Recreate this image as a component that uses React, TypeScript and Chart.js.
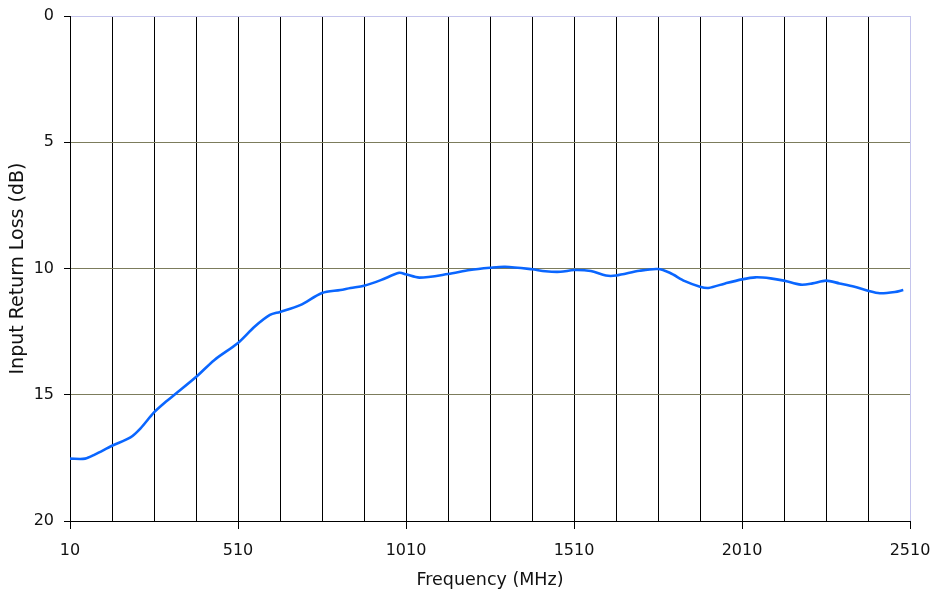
import React, { useEffect, useRef } from "react";
import { Chart, registerables } from "chart.js";

Chart.register(...registerables);

const FREQ_MHZ = [10, 55, 85, 135, 190, 220, 260, 295, 320, 385, 440, 510, 560, 605, 635, 695, 760, 815, 845, 885, 935, 990, 1010, 1050, 1135, 1200, 1260, 1305, 1385, 1425, 1470, 1510, 1560, 1605, 1635, 1705, 1760, 1795, 1840, 1885, 1910, 1960, 2010, 2050, 2095, 2135, 2185, 2220, 2260, 2300, 2345, 2385, 2420, 2465, 2490];
const RETURN_LOSS_DB = [17.53, 17.53, 17.36, 17.02, 16.69, 16.33, 15.7, 15.28, 15.01, 14.3, 13.62, 12.95, 12.3, 11.84, 11.72, 11.45, 10.97, 10.85, 10.77, 10.68, 10.46, 10.17, 10.23, 10.36, 10.22, 10.06, 9.97, 9.93, 10.03, 10.11, 10.13, 10.06, 10.1, 10.28, 10.28, 10.09, 10.02, 10.17, 10.5, 10.72, 10.77, 10.59, 10.43, 10.35, 10.39, 10.48, 10.64, 10.59, 10.48, 10.59, 10.72, 10.88, 10.98, 10.93, 10.85];
const X_MIN = 10;
const X_MAX = 2510;
const X_GRID_STEP = 125;
const X_LABEL_STEP = 500;
const Y_MIN = 0;
const Y_MAX = 20;
const Y_STEP = 5;
const X_TITLE = "Frequency (MHz)";
const Y_TITLE = "Input Return Loss (dB)";

const FONT = "'DejaVu Sans', Verdana, sans-serif";
const LAVENDER = "#c4c4ec";
const OLIVE = "#7c7c5c";

export default function App() {
  const ref = useRef<HTMLCanvasElement | null>(null);

  useEffect(() => {
    if (!ref.current) return;
    const chart = new Chart(ref.current, {
      type: "line",
      data: {
        datasets: [
          {
            data: FREQ_MHZ.map((f, i) => ({ x: f, y: RETURN_LOSS_DB[i] })),
            borderColor: "#0a66ff",
            borderWidth: 2.6,
            pointRadius: 0,
            tension: 0.3,
            fill: false,
          },
        ],
      },
      options: {
        animation: false,
        responsive: false,
        devicePixelRatio: 1,
        layout: { padding: { top: 16, right: 25, left: 0, bottom: 0 } },
        plugins: { legend: { display: false }, tooltip: { enabled: false } },
        scales: {
          x: {
            type: "linear",
            min: X_MIN,
            max: X_MAX,
            afterBuildTicks: (scale: any) => {
              const t: { value: number }[] = [];
              for (let v = X_MIN; v <= X_MAX; v += X_GRID_STEP) t.push({ value: v });
              scale.ticks = t;
            },
            afterFit: (scale: any) => {
              scale.height = 76;
            },
            ticks: {
              autoSkip: false,
              maxRotation: 0,
              padding: 4,
              color: "#111",
              font: { family: FONT, size: 16 },
              callback: (v: any) => ((Number(v) - X_MIN) % X_LABEL_STEP === 0 ? String(v) : ""),
            },
            grid: {
              color: (ctx: any) => (ctx.tick && ctx.tick.value === X_MAX ? LAVENDER : "#000"),
              lineWidth: 1,
              tickLength: 16,
              tickBorderDash: [7, 60],
              tickColor: (ctx: any) =>
                ctx.tick && (ctx.tick.value - X_MIN) % X_LABEL_STEP === 0 ? "#000" : "rgba(0,0,0,0)",
            },
            border: { color: "#000", width: 1 },
            title: {
              display: true,
              text: X_TITLE,
              color: "#111",
              font: { family: FONT, size: 17.5 },
              padding: { top: 0, bottom: 6 },
            },
          },
          y: {
            type: "linear",
            reverse: true,
            min: Y_MIN,
            max: Y_MAX,
            afterFit: (scale: any) => {
              scale.width = 70;
            },
            ticks: {
              stepSize: Y_STEP,
              padding: 4,
              color: "#111",
              font: { family: FONT, size: 16 },
            },
            grid: {
              color: (ctx: any) => {
                const v = ctx.tick ? ctx.tick.value : 0;
                if (v === Y_MIN) return LAVENDER;
                if (v === Y_MAX) return "#000";
                return OLIVE;
              },
              lineWidth: 1,
              tickLength: 12,
              tickBorderDash: [6, 6],
              tickBorderDashOffset: 6,
              tickColor: "#000",
            },
            border: { color: "#000", width: 1 },
            title: {
              display: true,
              text: Y_TITLE,
              color: "#111",
              font: { family: FONT, size: 19 },
              padding: { top: 7, bottom: 0 },
            },
          },
        },
      },
    });
    return () => chart.destroy();
  }, []);

  return (
    <div style={{ position: "absolute", left: 0, top: 0, width: 935, height: 597, background: "#fff" }}>
      <canvas ref={ref} width={935} height={597} style={{ display: "block" }} />
    </div>
  );
}
